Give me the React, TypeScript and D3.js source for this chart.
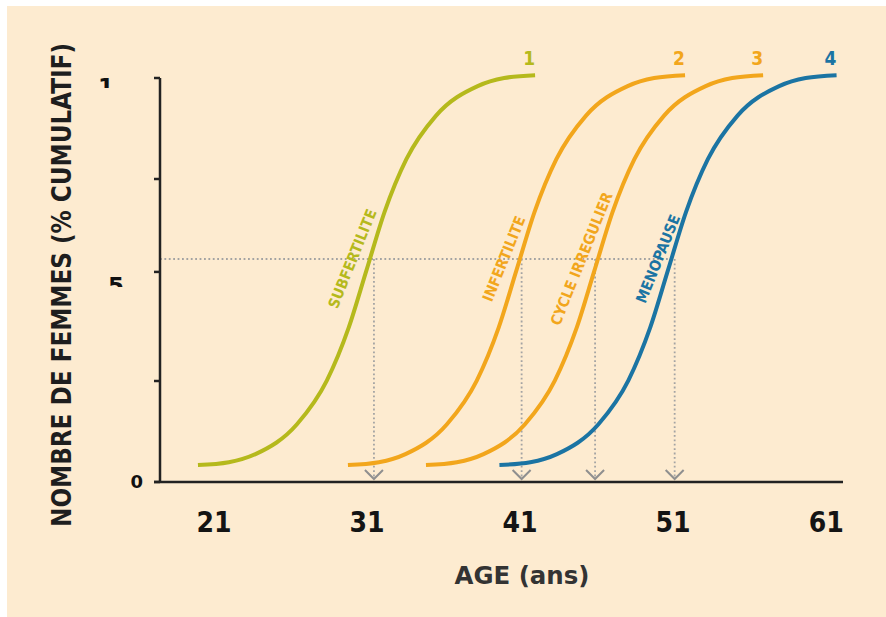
import React from "react";
import * as d3 from "d3";

// ---------- data ----------
const xTickValues = [21, 31, 41, 51, 61];
const yTickValues = [0, 0.25, 0.52, 0.75, 1];
const curveNames = ["SUBFERTILITE", "INFERTILITE", "CYCLE IRREGULIER", "MENOPAUSE"];
const curveNumbers = ["1", "2", "3", "4"];

const ages1 = [19.95, 21.97, 23.71, 26.42, 28.37, 29.8, 30.97, 32.14, 33.57, 35.51, 38.23, 39.96, 41.98];
const vals1 = [0.042, 0.049, 0.069, 0.143, 0.251, 0.382, 0.525, 0.668, 0.799, 0.907, 0.98, 1.0, 1.007];

const ages2 = [29.75, 31.77, 33.51, 36.22, 38.17, 39.6, 40.77, 41.94, 43.37, 45.31, 48.03, 49.76, 51.78];
const vals2 = [0.042, 0.049, 0.069, 0.143, 0.251, 0.382, 0.525, 0.668, 0.799, 0.907, 0.98, 1.0, 1.007];

const ages3 = [34.85, 36.87, 38.61, 41.32, 43.27, 44.7, 45.87, 47.04, 48.47, 50.41, 53.13, 54.86, 56.88];
const vals3 = [0.042, 0.049, 0.069, 0.143, 0.251, 0.382, 0.525, 0.668, 0.799, 0.907, 0.98, 1.0, 1.007];

const ages4 = [39.65, 41.67, 43.41, 46.12, 48.07, 49.5, 50.67, 51.84, 53.27, 55.21, 57.93, 59.66, 61.68];
const vals4 = [0.042, 0.049, 0.069, 0.143, 0.251, 0.382, 0.525, 0.668, 0.799, 0.907, 0.98, 1.0, 1.007];

const dashedLevel = 0.552;
const dropAges = [31.45, 41.1, 45.9, 51.1];

// ---------- styles ----------
const COLORS = ["#b5b91c", "#f2a61c", "#f2a61c", "#1b74a3"];
const LABEL_OFFSETS = [-21, -17, -13, -16];
const BG = "#fdebd0";
const FONT = "'Liberation Sans Narrow', 'DejaVu Sans Condensed', 'Roboto Condensed', Roboto, sans-serif";

export default function App() {
  const W = 886;
  const H = 617;
  const x = d3.scaleLinear().domain([17.47, 62.1]).range([160, 843]);
  const y = d3.scaleLinear().domain([0, 1]).range([482, 78]);

  const series = [
    { ages: ages1, vals: vals1 },
    { ages: ages2, vals: vals2 },
    { ages: ages3, vals: vals3 },
    { ages: ages4, vals: vals4 },
  ];

  const line = d3
    .line<[number, number]>()
    .x((d) => x(d[0]))
    .y((d) => y(d[1]))
    .curve(d3.curveMonotoneX);

  const yLevel = y(dashedLevel);
  const axisY = y(0);

  return (
    <svg
      width={W}
      height={H}
      viewBox={`0 0 ${W} ${H}`}
      style={{ position: "absolute", left: 0, top: 0, display: "block" }}
      fontFamily={FONT}
    >
      <defs>
        <clipPath id="clipOne">
          <rect x={90} y={70} width={40} height={18} />
        </clipPath>
        <clipPath id="clipFive">
          <rect x={100} y={270} width={40} height={17} />
        </clipPath>
      </defs>
      <rect x={0} y={0} width={W} height={H} fill="#ffffff" />
      <rect x={7} y={6} width={W - 7} height={H - 6} fill={BG} />

      {/* dotted guide lines */}
      <line
        x1={x.range()[0]}
        x2={x(dropAges[dropAges.length - 1])}
        y1={yLevel}
        y2={yLevel}
        stroke="#a3a3a3"
        strokeWidth={1.8}
        strokeDasharray="1.8 2.6"
      />
      {dropAges.map((a, i) => (
        <g key={"drop" + i}>
          <line
            x1={x(a)}
            x2={x(a)}
            y1={yLevel}
            y2={axisY - 4}
            stroke="#a3a3a3"
            strokeWidth={1.8}
            strokeDasharray="1.8 2.6"
          />
          <path
            d={`M${x(a) - 9},${axisY - 12} L${x(a)},${axisY - 3} L${x(a) + 9},${axisY - 12}`}
            fill="none"
            stroke="#8f8f8f"
            strokeWidth={2}
          />
        </g>
      ))}

      {/* curves */}
      {series.map((s, i) => {
        const pts: [number, number][] = s.ages.map((a, j) => [a, s.vals[j]]);
        const last = pts[pts.length - 1];
        return (
          <g key={"c" + i}>
            <path d={line(pts) || ""} fill="none" stroke={COLORS[i]} strokeWidth={4} strokeLinecap="butt" />
            <text
              x={x(last[0]) - 6}
              y={65}
              fill={COLORS[i]}
              fontSize={19}
              fontWeight="bold"
              textAnchor="middle"
            >
              {curveNumbers[i]}
            </text>
            <text
              transform={`translate(${x(dropAges[i]) + LABEL_OFFSETS[i]},${yLevel}) rotate(-68)`}
              fill={COLORS[i]}
              fontSize={15}
              fontWeight="bold"
              textAnchor="middle"
              dominantBaseline="middle"
            >
              {curveNames[i]}
            </text>
          </g>
        );
      })}

      {/* y axis */}
      <line x1={160} x2={160} y1={y(1)} y2={axisY} stroke="#222" strokeWidth={2.5} />
      {yTickValues.map((v) => (
        <line key={"yt" + v} x1={154} x2={160} y1={y(v)} y2={y(v)} stroke="#222" strokeWidth={2.5} />
      ))}
      {/* x axis */}
      <line x1={154} x2={x.range()[1]} y1={axisY} y2={axisY} stroke="#222" strokeWidth={2.5} />

      {/* y tick labels (as in reference, partially clipped) */}
      <text x={143} y={488} fontSize={18} fontWeight="bold" textAnchor="end" fill="#111" fontFamily="'DejaVu Sans', sans-serif">
        0
      </text>
      <g clipPath="url(#clipOne)">
        <text x={114} y={95} fontSize={23} fontWeight="bold" textAnchor="end" fill="#111" fontFamily="'DejaVu Sans', sans-serif">
          1
        </text>
      </g>
      <g clipPath="url(#clipFive)">
        <text x={124} y={294} fontSize={23} fontWeight="bold" textAnchor="end" fill="#111" fontFamily="'DejaVu Sans', sans-serif">
          5
        </text>
      </g>

      {/* x tick labels */}
      {xTickValues.map((t) => (
        <text key={"xt" + t} x={x(t)} y={532} fontSize={28} fontWeight="bold" textAnchor="middle" fill="#141414">
          {t}
        </text>
      ))}

      {/* axis titles */}
      <text x={522} y={584} fontSize={25} fontWeight="bold" textAnchor="middle" fill="#333" textLength={135} lengthAdjust="spacingAndGlyphs">
        AGE (ans)
      </text>
      <text
        transform="translate(71,285) rotate(-90)"
        fontSize={27}
        fontWeight="bold"
        textAnchor="middle"
        fill="#1e1e1e"
        textLength={484}
        lengthAdjust="spacingAndGlyphs"
      >
        NOMBRE DE FEMMES (% CUMULATIF)
      </text>
    </svg>
  );
}
